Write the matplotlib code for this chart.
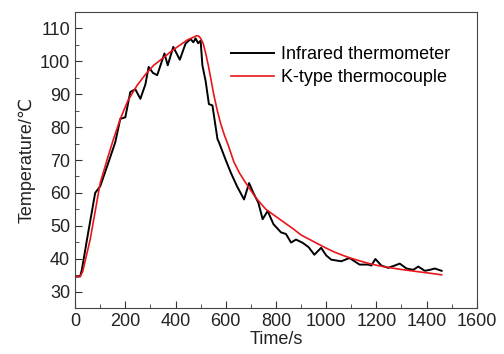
import matplotlib
matplotlib.use("Agg")
import matplotlib.pyplot as plt
from matplotlib.ticker import MultipleLocator

plt.rcParams['font.family'] = ['Liberation Sans', 'DejaVu Sans']

ir_time = [0, 20, 27, 50, 80, 100, 133, 160, 180, 200, 220, 240, 260, 280, 293, 310, 327, 356, 369, 391,
           417, 440, 460, 471, 480, 490, 500, 507, 520, 533, 547, 567, 573, 600, 620, 645, 673, 693, 710,
           730, 747, 767, 790, 820, 840, 860, 880, 907, 930, 953, 980, 1000, 1020, 1060, 1093, 1133,
           1167, 1180, 1196, 1220, 1247, 1273, 1293, 1320, 1347, 1367, 1393, 1413, 1433, 1460]
ir_temp = [34.5, 34.6, 36.6, 47, 60, 62, 69.3, 75.4, 82.5, 83, 90.7, 91.5, 88.6, 93, 98.3, 96.5, 95.8, 102.4, 98.8, 104.4,
           100.5, 105.4, 106.8, 105.8, 107, 105.5, 106.3, 98.8, 94, 87, 86.6, 76.4, 75.4, 70, 66.2, 62, 58, 63, 60,
           57, 52, 54.5, 50.5, 48, 47.5, 44.9, 45.8, 44.8, 43.5, 41.2, 43.3, 41, 39.7, 39.2, 40.2, 38.2,
           38.2, 37.9, 39.9, 37.9, 37.2, 37.9, 38.5, 37, 36.6, 37.6, 36.3, 36.6, 37, 36.3]

tc_time = [0, 20, 30, 60, 100, 127, 153, 180, 210, 247, 280, 313, 350, 380, 415, 447, 470, 484, 492, 500, 510, 520,
           530, 540, 552, 565, 580, 595, 610, 632, 655, 680, 720, 760, 800, 833, 870, 900, 940, 970, 1000, 1033,
           1070, 1100, 1135, 1167, 1200, 1250, 1300, 1350, 1400, 1460]
tc_temp = [34.6, 34.6, 36, 45.8, 63, 70, 76.4, 82.5, 88, 92.7, 96, 98.8, 101, 102.9, 104.8, 106.5, 107.3, 107.8, 107.7, 107, 105.5, 102.5,
           99, 95, 90, 85.5, 81, 77.5, 74.5, 69.5, 66, 63, 58.5, 55, 52.8, 51, 49, 47.2, 45.6, 44.4, 43.2, 42,
           40.9, 40.1, 39.3, 38.6, 38, 37.3, 36.7, 36.2, 35.7, 35.1]

fig = plt.figure(figsize=(5.04, 3.54), dpi=100)
ax = fig.add_axes([0.149, 0.130, 0.797, 0.836])
ax.plot(ir_time, ir_temp, color='black', lw=1.4, label='Infrared thermometer')
ax.plot(tc_time, tc_temp, color='#e8161b', lw=1.2, label='K-type thermocouple')

ax.set_xlim(0, 1600)
ax.set_ylim(25, 115)
ax.xaxis.set_major_locator(MultipleLocator(200))
ax.xaxis.set_minor_locator(MultipleLocator(100))
ax.yaxis.set_major_locator(MultipleLocator(10))
ax.yaxis.set_minor_locator(MultipleLocator(5))
ax.set_yticks(range(30, 111, 10))
ax.tick_params(which='both', direction='in', top=False, right=False, labelsize=13, color='#333333', colors='#222222')
ax.tick_params(which='major', length=5)
ax.tick_params(which='minor', length=3)
for s in ax.spines.values():
    s.set_color('#444444')
ax.set_xlabel('Time/s', fontsize=13, labelpad=1, color='#222222')
ax.set_ylabel('Temperature/\u2103', fontsize=13, labelpad=3, color='#222222')
ax.legend(loc='upper right', bbox_to_anchor=(0.975, 0.94), frameon=False, fontsize=13,
          handlelength=2.4, handletextpad=0.4, labelspacing=0.35)
fig.savefig('out.png', dpi=100)
